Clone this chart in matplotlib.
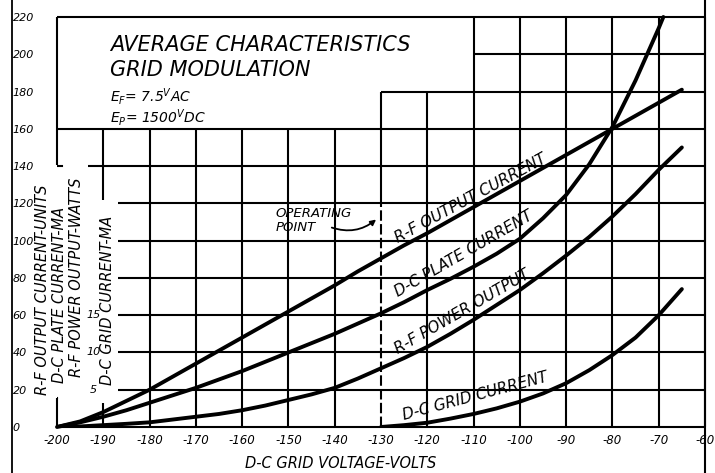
import matplotlib
matplotlib.use("Agg")
import matplotlib.pyplot as plt
import matplotlib.transforms as mtransforms

plt.rcParams["font.family"] = "DejaVu Sans"
plt.rcParams["font.style"] = "italic"
plt.rcParams["mathtext.fontset"] = "custom"
plt.rcParams["mathtext.rm"] = "DejaVu Sans:italic"
plt.rcParams["mathtext.it"] = "DejaVu Sans:italic"

# D-C grid voltage (volts) and the four curves
volts = [-200, -195, -190, -185, -180, -175, -170, -165, -160, -155,
         -150, -145, -140, -135, -130, -125, -120, -115, -110, -105,
         -100, -95, -90, -85, -80, -75, -70, -65]
rf_output_current = [0, 3, 8, 14, 20, 27, 34, 41, 48, 55,
                     62, 69, 76, 83.5, 90.5, 97.5, 104, 111, 118, 125,
                     132, 139, 146, 153, 160, 167, 174, 181]
rf_power_output = [0, 0.3, 1, 1.7, 2.5, 4, 5.5, 7, 9, 11.5,
                   14.5, 17.5, 21, 26, 31.5, 37, 43, 50, 57.5, 65.5,
                   73.5, 82.5, 92, 102, 113, 125, 138, 150]

plate_volts = [-200, -195, -190, -185, -180, -175, -170, -165, -160, -155,
               -150, -145, -140, -135, -130, -125, -120, -115, -110, -105,
               -100, -95, -90, -85, -80, -75, -70, -69]
dc_plate_current = [0, 2.5, 5.5, 9, 13, 17, 21, 25.5, 30, 35,
                    40, 45, 50, 55.5, 61, 67, 73.5, 79.5, 86, 93,
                    101, 112, 124.5, 141, 161, 186, 214, 220]

grid_volts = [-130, -125, -120, -115, -110, -105, -100, -95, -90, -85,
              -80, -75, -70, -65]
dc_grid_current = [0, 1, 2.3, 4.5, 7, 10, 13.6, 18, 23.5, 30.5,
                   38.6, 48, 60, 74]

x_ticks = list(range(-200, -59, 10))
y_ticks = list(range(0, 221, 20))
watt_levels = [20, 40, 60]
watt_labels = ["5", "10", "15"]
operating_point = -130

fig = plt.figure(figsize=(7.15, 4.73), dpi=100)
ax = fig.add_axes([57 / 715, 46 / 473, 648 / 715, 410 / 473])
ax.set_xlim(-200, -60)
ax.set_ylim(0, 220)
for s in ax.spines.values():
    s.set_visible(False)

ink = "black"
glw = 1.5

# vertical grid lines (title box cuts the upper left, labels cut the left columns)
for x in x_ticks:
    if x == -200:
        segs = [(0, 15.5), (140.5, 220)]
    elif x == -190:
        segs = [(0, 13), (122, 160)]
    elif x < -130:
        segs = [(0, 160)]
    elif x == operating_point:
        segs = [(123, 180)]
    elif x < -110:
        segs = [(0, 180)]
    else:
        segs = [(0, 220)]
    for y0, y1 in segs:
        ax.plot([x, x], [y0, y1], color=ink, lw=glw, clip_on=False,
                solid_capstyle="butt")
ax.plot([operating_point, operating_point], [0, 123], color=ink, lw=glw,
        ls=(0, (5, 1.6)), clip_on=False)

# horizontal grid lines
for y in y_ticks:
    if y == 0 or y == 160 or y == 220:
        left = -200
    elif y == 140:
        left = -193.3
        ax.plot([-200, -198.9], [y, y], color=ink, lw=glw)
    elif y == 180:
        left = -130
    elif y == 200:
        left = -110
    else:
        left = -186.8
    ax.plot([left, -60], [y, y], color=ink, lw=glw, clip_on=False,
            solid_capstyle="butt")
ax.plot([-200.9, -200], [15.5, 15.5], color=ink, lw=glw)

# page edges
edge = mtransforms.blended_transform_factory(ax.transData, fig.transFigure)
ax.plot([-209.7, -209.7], [0, 1], color=ink, lw=1.3, transform=edge, clip_on=False)
ax.plot([-60, -60], [0, 1], color=ink, lw=1.5, transform=edge, clip_on=False)

# curves
clw = 2.8
ax.plot(volts, rf_output_current, color=ink, lw=clw, solid_capstyle="round")
ax.plot(plate_volts, dc_plate_current, color=ink, lw=clw, solid_capstyle="round",
        clip_on=False)
ax.plot(volts, rf_power_output, color=ink, lw=clw, solid_capstyle="round")
ax.plot(grid_volts, dc_grid_current, color=ink, lw=clw, solid_capstyle="round")

# curve labels
lab = dict(fontsize=11, ha="center", va="center", rotation_mode="anchor")
ax.text(-110.6, 122.5, "R-F OUTPUT CURRENT", rotation=28.5, **lab)
ax.text(-112.1, 92.8, "D-C PLATE CURRENT", rotation=30, **lab)
ax.text(-112.5, 62.0, "R-F POWER OUTPUT", rotation=30, **lab)
ax.text(-109.6, 16.7, "D-C GRID CURRENT", rotation=15, **lab)

ax.text(-152.7, 114.3, "OPERATING", fontsize=9.5, ha="left", va="center")
ax.text(-152.7, 107.3, "POINT", fontsize=9.5, ha="left", va="center")
ax.annotate("", xy=(-130.6, 112.3), xytext=(-141.2, 107.5),
            arrowprops=dict(arrowstyle="-|>", color=ink, lw=1.3,
                            mutation_scale=8,
                            connectionstyle="arc3,rad=0.3"))

# title block
ax.text(0.082, 0.932, "AVERAGE CHARACTERISTICS", transform=ax.transAxes,
        fontsize=15, ha="left", va="center")
ax.text(0.082, 0.871, "GRID MODULATION", transform=ax.transAxes,
        fontsize=15, ha="left", va="center")
ax.text(0.082, 0.805, r"$E_F$= $7.5^V$AC", transform=ax.transAxes,
        fontsize=10, ha="left", va="center")
ax.text(0.082, 0.754, r"$E_P$= $1500^V$DC", transform=ax.transAxes,
        fontsize=10, ha="left", va="center")

# axis labels
ax.set_xticks(x_ticks, labels=[str(v) for v in x_ticks])
ax.set_yticks(y_ticks, labels=[str(v) for v in y_ticks])
ax.tick_params(axis="x", length=0, labelsize=8.5, pad=5)
ax.tick_params(axis="y", length=0, labelsize=8, pad=32)
for t in ax.get_yticklabels():
    t.set_ha("left")

ax.set_xlabel("D-C GRID VOLTAGE-VOLTS", fontsize=10.5)
ax.xaxis.set_label_coords(0.437, -0.07)

side = dict(fontsize=10.5, rotation=90, ha="center", va="center", clip_on=False)
ax.text(-203.1, 73.5, "R-F OUTPUT CURRENT-UNITS", **side)
ax.text(-199.5, 71.1, "D-C PLATE CURRENT-MA", **side)
ax.text(-195.7, 80.2, "R-F POWER OUTPUT-WATTS", **side)
ax.text(-189.0, 68.1, "D-C GRID CURRENT-MA", **side)
for lvl, txt in zip(watt_levels, watt_labels):
    ax.text(-192.2, lvl, txt, fontsize=8, ha="center", va="center")

fig.savefig("out.png", dpi=100, facecolor="white")
